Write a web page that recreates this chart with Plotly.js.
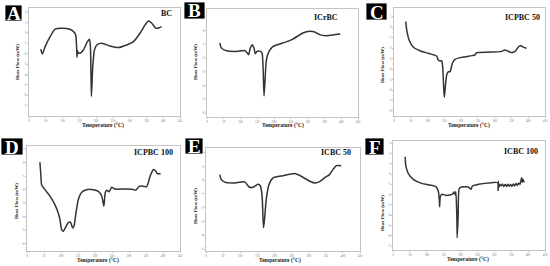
<!DOCTYPE html>
<html>
<head>
<meta charset="utf-8">
<script src="https://cdn.plot.ly/plotly-3.0.1.min.js"></script>
<style>html,body{margin:0;padding:0;background:#fff;}#chart{width:550px;height:266px;}</style>
</head>
<body>
<div id="chart"></div>
<script>
// ---------- data ----------
const xTicks = [0, 50, 100, 150, 200, 250, 300, 350, 400, 450];

const panelLetters = ["A", "B", "C", "D", "E", "F"];
const sampleNames = ["BC", "ICrBC", "ICPBC 50", "ICPBC 100", "ICBC 50", "ICBC 100"];

const tempA = [35, 40, 48, 63, 77, 97, 122, 137, 140, 142, 143, 144, 146, 152, 162, 174, 180, 183, 186, 190, 195, 202, 217, 241, 266, 291, 311, 331, 346, 356, 366, 378, 388, 395];
const flowA = [-1.57, -2.02, -1.32, -0.36, 0.35, 0.45, 0.35, -0.03, -0.36, -1.5, -2.34, -1.7, -1.9, -1.96, -1.64, -0.84, -0.61, -1.32, -6.13, -3.24, -1.64, -1.16, -1.0, -1.25, -1.41, -1.16, -0.84, -0.03, 0.77, 1.15, 0.93, 0.45, 0.5, 0.6];
const yTicksA = [-7, -6, -5, -4, -3, -2, -1, 0, 1, 2];

const tempB = [38, 43, 58, 87, 112, 119, 124, 129, 135, 140, 144, 149, 159, 164, 167, 170, 173, 177, 185, 197, 226, 256, 286, 306, 321, 336, 354, 376, 397];
const flowB = [-0.9, -1.27, -1.46, -1.51, -1.44, -1.59, -1.76, -1.27, -1.02, -1.27, -1.68, -1.51, -1.51, -1.63, -2.61, -4.76, -3.59, -2.12, -1.51, -1.15, -0.9, -0.61, -0.17, -0.05, -0.1, -0.29, -0.37, -0.31, -0.22];
const yTicksB = [-6, -5, -4, -3, -2, -1, 0, 1];

const tempC = [35, 38, 45, 58, 77, 102, 127, 132, 137, 142, 145, 148, 150, 153, 157, 162, 167, 174, 182, 202, 232, 241, 246, 256, 291, 321, 329, 336, 351, 361, 373, 379, 385, 395];
const flowC = [0.55, -0.25, -1.2, -1.9, -2.23, -2.48, -2.74, -3.12, -3.21, -3.18, -3.76, -5.68, -6.69, -5.68, -4.56, -4.24, -4.24, -3.43, -3.05, -2.86, -2.7, -2.64, -2.42, -2.4, -2.35, -2.29, -2.16, -2.22, -2.42, -2.3, -1.78, -1.75, -1.88, -2.0];
const yTicksC = [-8, -7, -6, -5, -4, -3, -2, -1, 0, 1];

const tempD = [38, 41, 43, 53, 68, 82, 92, 97, 102, 107, 112, 121, 128, 134, 138, 144, 151, 161, 175, 195, 210, 220, 226, 230, 234, 242, 249, 259, 293, 313, 320, 330, 337, 352, 362, 372, 379, 383, 393];
const flowD = [0.02, -1.01, -1.63, -2.0, -2.49, -3.1, -3.72, -4.21, -4.95, -5.07, -4.85, -4.45, -4.4, -4.82, -4.7, -3.72, -2.73, -2.19, -2.0, -2.0, -2.12, -2.49, -3.22, -2.24, -2.04, -2.15, -1.82, -1.95, -1.95, -1.99, -2.04, -1.75, -1.73, -1.78, -1.01, -0.52, -0.64, -0.82, -0.82];
const yTicksD = [-6, -5, -4, -3, -2, -1, 0, 1];

const tempE = [40, 45, 55, 79, 113, 120, 126, 137, 145, 152, 159, 164, 168, 171, 176, 184, 196, 225, 259, 278, 303, 320, 332, 350, 361, 371, 381, 395];
const flowE = [0.41, 0.04, -0.14, -0.2, -0.12, -0.32, -0.49, -0.51, -0.39, -0.3, -0.42, -1.16, -3.46, -2.86, -1.41, -0.32, 0.17, 0.33, 0.48, 0.29, -0.07, -0.2, -0.1, 0.24, 0.41, 0.77, 1.06, 1.06];
const yTicksE = [-5, -4, -3, -2, -1, 0, 1, 2];

const tempF = [36, 38, 45, 60, 85, 114, 127, 134, 137, 138, 140, 144, 159, 176, 180, 184, 186, 189, 190, 193, 196, 203, 223, 231, 235, 253, 292, 310, 311, 312, 313, 316, 320, 324, 328, 332, 336, 340, 344, 348, 352, 356, 360, 364, 368, 372, 376, 379, 381, 383, 385, 387, 389];
const flowF = [1.7, 0.8, 0.08, -0.51, -0.9, -1.09, -1.22, -1.64, -2.46, -3.17, -2.2, -1.97, -2.07, -1.95, -1.75, -2.0, -1.7, -4.08, -6.19, -4.0, -1.42, -1.25, -1.25, -1.48, -1.15, -0.99, -0.83, -0.83, -1.6, -0.7, -1.3, -1.0, -1.15, -0.95, -1.2, -1.0, -1.2, -0.98, -1.18, -1.0, -1.2, -0.95, -1.15, -0.9, -1.1, -0.85, -1.0, -0.6, -0.34, -0.8, -0.5, -0.75, -0.67];
const yTicksF = [-7, -6, -5, -4, -3, -2, -1, 0, 1, 2, 3];

// ---------- layout helpers (pixel geometry of each panel) ----------
const W = 550, H = 266;
const px = v => v / W;
const py = v => 1 - v / H;

const panels = [
  {t: tempA, f: flowA, yt: yTicksA, x0: 29, x1: 180, yb: 116, yTop: 8, yr: [-8, 2.4],
   box: [5, 5, 22, 21], name: [166, 14], ytitle: [18, 62], xtitle: [103, 125]},
  {t: tempB, f: flowB, yt: yTicksB, x0: 207, x1: 358, yb: 117, yTop: 9, yr: [-6.29, 1.58],
   box: [184, 2, 205, 19], name: [326, 17], ytitle: [196, 62], xtitle: [283, 126]},
  {t: tempC, f: flowC, yt: yTicksC, x0: 394, x1: 545, yb: 116, yTop: 8, yr: [-8.48, 1.86],
   box: [366, 3, 387, 20], name: [522, 17], ytitle: [382, 65], xtitle: [469, 125]},
  {t: tempD, f: flowD, yt: yTicksD, x0: 27, x1: 180, yb: 251, yTop: 146, yr: [-6.52, 1.22],
   box: [1, 138, 23, 155], name: [153, 152], ytitle: [16, 201], xtitle: [98, 260]},
  {t: tempE, f: flowE, yt: yTicksE, x0: 206, x1: 360, yb: 251, yTop: 148, yr: [-5.14, 2.34],
   box: [185, 138, 203, 154], name: [336, 152], ytitle: [195, 206], xtitle: [280, 260]},
  {t: tempF, f: flowF, yt: yTicksF, x0: 393, x1: 545, yb: 250, yTop: 141, yr: [-7.39, 3.23],
   box: [365, 138, 384, 155], name: [521, 151], ytitle: [382, 213], xtitle: [468, 259]}
];

const serif = "Liberation Serif, Times New Roman, serif";
const traces = [];
const layout = {
  width: W, height: H,
  margin: {l: 0, r: 0, t: 0, b: 0},
  paper_bgcolor: "#fff", plot_bgcolor: "#fff",
  showlegend: false,
  shapes: [], annotations: []
};

panels.forEach((p, i) => {
  const k = i === 0 ? "" : String(i + 1);
  traces.push({
    x: p.t, y: p.f, xaxis: "x" + k, yaxis: "y" + k,
    type: "scatter", mode: "lines",
    line: {color: "#333", width: 1.5, shape: "spline", smoothing: 0.6},
    hoverinfo: "skip"
  });
  const axCommon = {
    showgrid: false, zeroline: false, showline: true, mirror: true,
    linecolor: "#aaa", linewidth: 0.7,
    ticks: "outside", ticklen: 1.2, tickwidth: 0.5, tickcolor: "#888",
    tickfont: {family: serif, size: 3, color: "#777"}, fixedrange: true,
    ticklabelstandoff: 0
  };
  layout["xaxis" + k] = Object.assign({}, axCommon, {
    domain: [px(p.x0), px(p.x1)], range: [0, 450], anchor: "y" + k,
    tickvals: xTicks, ticktext: xTicks.map(String)
  });
  layout["yaxis" + k] = Object.assign({}, axCommon, {
    domain: [py(p.yb), py(p.yTop)], range: p.yr, anchor: "x" + k,
    tickvals: p.yt, ticktext: p.yt.map(String)
  });
  // panel letter box
  layout.shapes.push({type: "rect", xref: "paper", yref: "paper",
    x0: px(p.box[0]), x1: px(p.box[2]), y0: py(p.box[3]), y1: py(p.box[1]),
    fillcolor: "#000", line: {color: "#fff", width: 0.8}});
  layout.annotations.push({xref: "paper", yref: "paper",
    x: px((p.box[0] + p.box[2]) / 2), y: py((p.box[1] + p.box[3]) / 2 + 0.5),
    text: "<b>" + panelLetters[i] + "</b>", showarrow: false,
    xanchor: "center", yanchor: "middle",
    font: {family: serif, size: 19, color: "#fff"}});
  // sample name
  layout.annotations.push({xref: "paper", yref: "paper",
    x: px(p.name[0]), y: py(p.name[1]), text: "<b>" + sampleNames[i] + "</b>",
    showarrow: false, xanchor: "center", yanchor: "middle",
    font: {family: serif, size: 8, color: "#111"}});
  // axis titles
  layout.annotations.push({xref: "paper", yref: "paper",
    x: px(p.ytitle[0]), y: py(p.ytitle[1]), text: "<b>Heat Flow (mW)</b>",
    showarrow: false, textangle: -90, xanchor: "center", yanchor: "middle",
    font: {family: serif, size: 5, color: "#222"}});
  layout.annotations.push({xref: "paper", yref: "paper",
    x: px(p.xtitle[0]), y: py(p.xtitle[1]), text: "<b>Temperature (°C)</b>",
    showarrow: false, xanchor: "center", yanchor: "middle",
    font: {family: serif, size: 5.5, color: "#222"}});
});

Plotly.newPlot("chart", traces, layout, {staticPlot: true, displayModeBar: false});
</script>
</body>
</html>
